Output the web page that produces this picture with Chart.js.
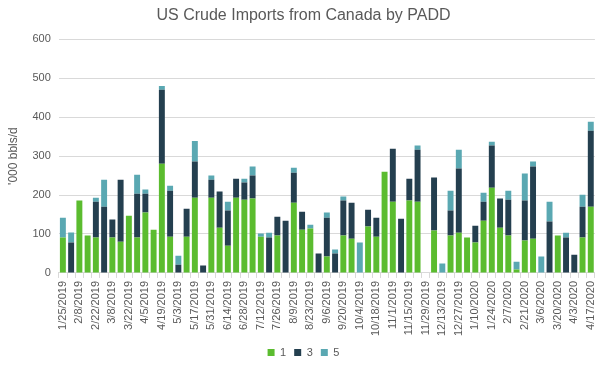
<!DOCTYPE html>
<html>
<head>
<meta charset="utf-8">
<script src="https://cdn.jsdelivr.net/npm/chart.js@4"></script>
<style>
  html, body { margin: 0; padding: 0; background: #fff; }
  #wrap { width: 607px; height: 370px; position: relative; }
</style>
</head>
<body>
<div id="wrap"><canvas id="grafico"></canvas></div>
<script>
// semanas (sexta-feira)
const semanas = [
  "1/25/2019","2/1/2019","2/8/2019","2/15/2019","2/22/2019","3/1/2019","3/8/2019","3/15/2019",
  "3/22/2019","3/29/2019","4/5/2019","4/12/2019","4/19/2019","4/26/2019","5/3/2019","5/10/2019",
  "5/17/2019","5/24/2019","5/31/2019","6/7/2019","6/14/2019","6/21/2019","6/28/2019","7/5/2019",
  "7/12/2019","7/19/2019","7/26/2019","8/2/2019","8/9/2019","8/16/2019","8/23/2019","8/30/2019",
  "9/6/2019","9/13/2019","9/20/2019","9/27/2019","10/4/2019","10/11/2019","10/18/2019","10/25/2019",
  "11/1/2019","11/8/2019","11/15/2019","11/22/2019","11/29/2019","12/6/2019","12/13/2019","12/20/2019",
  "12/27/2019","1/3/2020","1/10/2020","1/17/2020","1/24/2020","1/31/2020","2/7/2020","2/14/2020",
  "2/21/2020","2/28/2020","3/6/2020","3/13/2020","3/20/2020","3/27/2020","4/3/2020","4/10/2020",
  "4/17/2020"
];

// PADD 1
const padd1 = [
  91,0,186,96,91,0,91,80,147,91,155,111,280,93,0,93,
  193,0,193,116,70,193,188,191,93,0,96,0,180,111,114,0,
  42,0,96,88,0,119,93,260,183,0,186,183,0,109,0,96,
  103,91,78,134,219,116,96,9,83,88,0,0,96,0,0,91,
  170
];
// PADD 3
const padd3 = [
  0,78,0,0,92,170,46,159,0,112,48,0,190,118,21,72,
  93,19,46,93,90,49,44,59,0,91,48,134,77,46,0,50,
  100,50,90,92,0,43,49,0,136,139,56,133,0,136,0,64,
  165,0,43,49,108,75,92,0,103,185,0,132,0,91,47,79,
  195
];
// PADD 5
const padd5 = [
  51,26,0,0,10,69,0,0,0,49,11,0,10,13,23,0,
  53,0,11,0,23,0,10,23,8,12,0,0,13,0,10,0,
  13,10,10,0,78,0,0,0,0,0,0,11,0,0,24,51,
  48,0,0,23,10,0,23,20,69,13,42,51,0,12,0,31,
  23
];

const corTexto = "#595959";
const fonte = "'Liberation Sans', Arial, sans-serif";

new Chart(document.getElementById("grafico").getContext("2d"), {
  type: "bar",
  data: {
    labels: semanas,
    datasets: [
      { label: "1", data: padd1, backgroundColor: "#5bbc2f" },
      { label: "3", data: padd3, backgroundColor: "#243f4f" },
      { label: "5", data: padd5, backgroundColor: "#5aa8b2" }
    ]
  },
  options: {
    responsive: true,
    maintainAspectRatio: false,
    animation: false,
    datasets: { bar: { barPercentage: 0.72, categoryPercentage: 1.0 } },
    layout: { padding: { left: 2, right: 2, top: 4, bottom: 2 } },
    plugins: {
      title: {
        display: true,
        text: "US Crude Imports from Canada by PADD",
        color: corTexto,
        font: { family: fonte, size: 16, weight: "normal" },
        padding: { top: 2, bottom: 14 }
      },
      legend: {
        position: "bottom",
        labels: {
          color: corTexto,
          boxWidth: 7, boxHeight: 7,
          padding: 8,
          font: { family: fonte, size: 11 }
        }
      },
      tooltip: { enabled: false }
    },
    scales: {
      x: {
        stacked: true,
        grid: { display: true, drawOnChartArea: false, color: "#d9d9d9", tickLength: 5 },
        border: { color: "#d9d9d9" },
        ticks: {
          autoSkip: false,
          maxRotation: 90, minRotation: 90,
          color: corTexto,
          font: { family: fonte, size: 11 },
          callback: function (v, i) { return i % 2 === 0 ? semanas[i] : ""; }
        }
      },
      y: {
        stacked: true,
        min: 0, max: 600,
        ticks: { stepSize: 100, color: corTexto, font: { family: fonte, size: 11 }, padding: 8 },
        grid: { color: "#d9d9d9", drawTicks: false },
        border: { display: false },
        title: {
          display: true,
          text: "'000 bbls/d",
          color: corTexto,
          font: { family: fonte, size: 12 }
        }
      }
    }
  }
});
</script>
</body>
</html>
